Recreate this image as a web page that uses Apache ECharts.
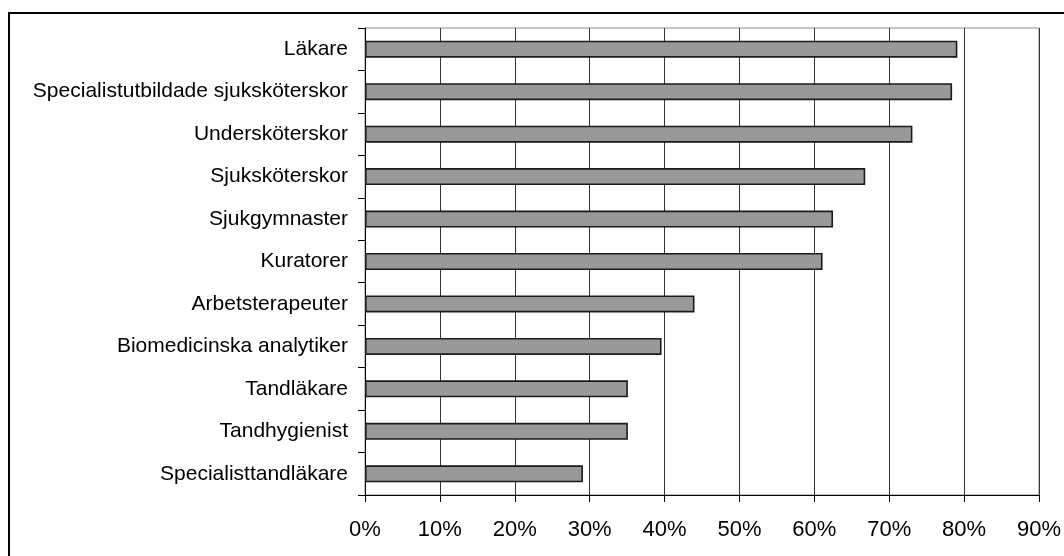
<!DOCTYPE html>
<html>
<head>
<meta charset="utf-8">
<script src="https://cdn.jsdelivr.net/npm/echarts@6/dist/echarts.min.js"></script>
<style>
html,body{margin:0;padding:0;background:#fff;}
#c{width:1064px;height:556px;}
</style>
</head>
<body>
<div id="c"></div>
<script>
const categories = [
  "Läkare",
  "Specialistutbildade sjuksköterskor",
  "Undersköterskor",
  "Sjuksköterskor",
  "Sjukgymnaster",
  "Kuratorer",
  "Arbetsterapeuter",
  "Biomedicinska analytiker",
  "Tandläkare",
  "Tandhygienist",
  "Specialisttandläkare"
];
const values = [79.1, 78.4, 73.1, 66.8, 62.5, 61.1, 44.0, 39.6, 35.1, 35.1, 29.1];
const xTicks = [0, 10, 20, 30, 40, 50, 60, 70, 80, 90];

const chart = echarts.init(document.getElementById('c'), null, {renderer: 'canvas'});
const font = '"Liberation Sans", Arial, sans-serif';
chart.setOption({
  animation: false,
  backgroundColor: '#ffffff',
  graphic: [{
    type: 'rect',
    shape: {x: 9, y: 13, width: 1200, height: 1000},
    style: {fill: 'none', stroke: '#000', lineWidth: 2},
    silent: true
  }],
  grid: {
    left: 365, right: 25, top: 28, bottom: 61,
    show: true, borderColor: '#8a8a8a', borderWidth: 1, backgroundColor: 'transparent'
  },
  xAxis: {
    type: 'value',
    min: xTicks[0],
    max: xTicks[xTicks.length - 1],
    interval: 10,
    axisLine: {show: true, lineStyle: {color: '#000', width: 1}},
    axisTick: {show: true, inside: false, length: 7, lineStyle: {color: '#000'}},
    axisLabel: {
      margin: 24,
      color: '#000',
      fontFamily: font,
      fontSize: 22,
      formatter: v => v + '%'
    },
    splitLine: {show: true, lineStyle: {color: '#333', width: 1}}
  },
  yAxis: {
    type: 'category',
    data: categories,
    inverse: true,
    axisLine: {show: true, lineStyle: {color: '#000', width: 1}},
    axisTick: {show: true, inside: false, length: 7, alignWithLabel: false, lineStyle: {color: '#000'}},
    axisLabel: {
      margin: 17,
      color: '#000',
      fontFamily: font,
      fontSize: 21
    },
    splitLine: {show: false}
  },
  series: [{
    type: 'bar',
    data: values,
    barCategoryGap: '60%',
    itemStyle: {color: '#999999', borderColor: '#1a1a1a', borderWidth: 1.6},
    silent: true
  }]
});
</script>
</body>
</html>
